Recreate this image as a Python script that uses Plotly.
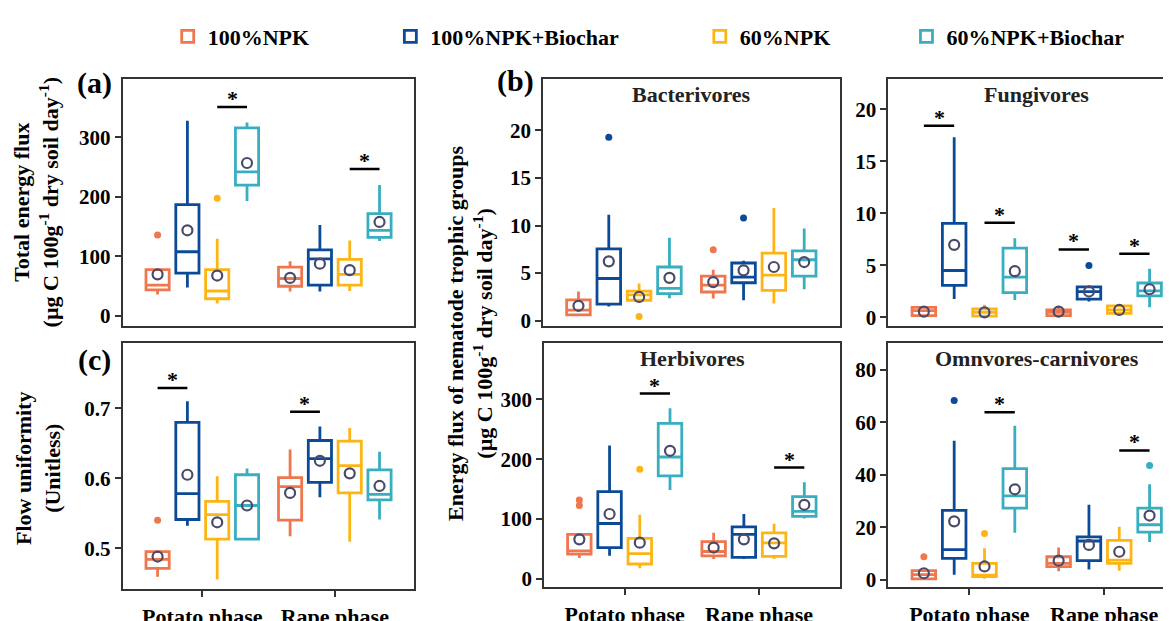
import plotly.graph_objects as go

# ---------------- data ----------------
SERIES = ["100%NPK", "100%NPK+Biochar", "60%NPK", "60%NPK+Biochar"]
COLORS = ["#F0764D", "#0B4A96", "#FDB515", "#38AFC0"]
PHASES = ["Potato phase", "Rape phase"]

# stats per series: [potato(low, q1, median, q3, high, mean), rape(...)]
total_flux = {
    "100%NPK":         [(36, 44, 52, 78, 78, 70), (41, 50, 63, 82, 92, 64)],
    "100%NPK+Biochar": [(48, 72, 108, 187, 328, 144), (41, 52, 96, 111, 153, 88)],
    "60%NPK":          [(21, 29, 42, 78, 130, 68), (42, 52, 70, 95, 127, 77)],
    "60%NPK+Biochar":  [(193, 220, 242, 316, 325, 257), (126, 132, 144, 172, 220, 158)],
}
total_flux_outliers = [("100%NPK", 0, 136), ("60%NPK", 0, 198)]
total_flux_sig = [(0, 2, 3, 351), (1, 2, 3, 247)]

flow_uniformity = {
    "100%NPK":         [(0.459, 0.471, 0.484, 0.495, 0.495, 0.488), (0.517, 0.540, 0.588, 0.601, 0.641, 0.579)],
    "100%NPK+Biochar": [(0.532, 0.541, 0.578, 0.680, 0.710, 0.605), (0.573, 0.594, 0.628, 0.654, 0.674, 0.625)],
    "60%NPK":          [(0.455, 0.513, 0.548, 0.567, 0.603, 0.537), (0.509, 0.579, 0.618, 0.653, 0.672, 0.607)],
    "60%NPK+Biochar":  [(0.513, 0.513, 0.561, 0.605, 0.614, 0.561), (0.541, 0.569, 0.577, 0.612, 0.638, 0.589)],
}
flow_uniformity_outliers = [("100%NPK", 0, 0.540)]
flow_uniformity_sig = [(0, 0, 1, 0.729), (1, 0, 1, 0.695)]

bacterivores = {
    "100%NPK":         [(0.52, 0.6, 1.1, 2.18, 3.05, 1.56), (2.32, 3.01, 3.74, 4.67, 5.36, 4.05)],
    "100%NPK+Biochar": [(1.49, 1.73, 4.43, 7.54, 11.14, 6.23), (2.15, 3.98, 4.57, 6.06, 6.3, 5.29)],
    "60%NPK":          [(2.14, 2.14, 2.7, 3.11, 3.91, 2.49), (1.8, 3.18, 4.78, 7.09, 11.83, 5.64)],
    "60%NPK+Biochar":  [(2.35, 2.84, 3.4, 5.64, 8.72, 4.5), (3.29, 4.67, 6.4, 7.34, 9.69, 6.16)],
}
bacterivores_outliers = [("100%NPK+Biochar", 0, 19.27), ("60%NPK", 0, 0.42),
                         ("100%NPK", 1, 7.44), ("100%NPK+Biochar", 1, 10.8)]
bacterivores_sig = []

fungivores = {
    "100%NPK":         [(0.16, 0.16, 0.63, 0.95, 1.0, 0.54), (0.16, 0.16, 0.47, 0.7, 1.1, 0.54)],
    "100%NPK+Biochar": [(1.74, 3.07, 4.49, 9.02, 17.3, 6.96), (1.52, 1.74, 2.47, 2.91, 3.07, 2.47)],
    "60%NPK":          [(0.1, 0.1, 0.47, 0.79, 1.2, 0.47), (0.25, 0.38, 0.7, 1.1, 1.2, 0.7)],
    "60%NPK+Biochar":  [(1.65, 2.37, 3.86, 6.65, 7.6, 4.43), (0.95, 2.06, 2.53, 3.29, 4.65, 2.69)],
}
fungivores_outliers = [("100%NPK+Biochar", 1, 4.97)]
fungivores_sig = [(0, 0, 1, 18.42), (0, 2, 3, 9.08), (1, 0, 1, 6.52), (1, 2, 3, 6.1)]

herbivores = {
    "100%NPK":         [(34.7, 41.3, 46.8, 74.3, 74.3, 66), (33, 38.5, 45.7, 62.2, 77, 52.3)],
    "100%NPK+Biochar": [(38.5, 52.3, 92.5, 145.9, 222.9, 108.4), (33, 35.8, 74.3, 87, 108.4, 66)],
    "60%NPK":          [(17.6, 24.8, 42, 67.7, 107.3, 60.5), (33, 37.4, 60, 77, 91.9, 59.4)],
    "60%NPK+Biochar":  [(148.6, 172.3, 203.7, 259.8, 285.1, 214.1), (100.7, 104.6, 112.8, 137.6, 161.3, 123.8)],
}
herbivores_outliers = [("100%NPK", 0, 132), ("100%NPK", 0, 122.7), ("60%NPK", 0, 183.3)]
herbivores_sig = [(0, 2, 3, 309.9), (1, 2, 3, 186)]

omnivores = {
    "100%NPK":         [(0.4, 0.4, 2.0, 3.5, 3.5, 2.5), (3.3, 5.0, 6.3, 8.8, 12.3, 7.3)],
    "100%NPK+Biochar": [(1.9, 8.15, 11.5, 26.5, 53, 22.3), (3.9, 7.3, 14.8, 16.4, 28.6, 13.3)],
    "60%NPK":          [(0.4, 1.25, 1.8, 6.3, 12.0, 5.1), (3.5, 6.3, 7.5, 15.0, 20.2, 10.7)],
    "60%NPK+Biochar":  [(17.9, 27.3, 32, 42.4, 58.7, 34.5), (14.4, 18.2, 21.0, 27.3, 36.4, 24.5)],
}
omnivores_outliers = [("100%NPK", 0, 8.8), ("100%NPK+Biochar", 0, 68.3),
                      ("60%NPK", 0, 17.7), ("60%NPK+Biochar", 1, 43.6)]
omnivores_sig = [(0, 2, 3, 63.9), (1, 2, 3, 49.3)]

# ---------------- layout helpers ----------------
W, H = 1171, 621
FONT = "Liberation Serif"
OFFSETS = [-0.3375, -0.1125, 0.1125, 0.3375]
BOX_W = 0.175
MEAN_COLOR = "#4A4A6A"
AXIS_COLOR = "#333333"


def fx(px):
    return px / W


def fy(py):
    return 1 - py / H


panels = [
    dict(data=total_flux, out=total_flux_outliers, sig=total_flux_sig,
         xp=(115, 407), yp=(72, 322), yr=[-16.5, 398], yt=[0, 100, 200, 300],
         xr=[-0.6, 1.6], xlab=False, title=None),
    dict(data=flow_uniformity, out=flow_uniformity_outliers, sig=flow_uniformity_sig,
         xp=(115, 407), yp=(339, 589), yr=[0.441, 0.794], yt=[0.5, 0.6, 0.7],
         xr=[-0.6, 1.6], xlab=True, title=None),
    dict(data=bacterivores, out=bacterivores_outliers, sig=bacterivores_sig,
         xp=(536, 833), yp=(72, 322), yr=[-0.55, 25.4], yt=[0, 5, 10, 15, 20],
         xr=[-0.6, 1.6], xlab=False, title="Bacterivores"),
    dict(data=fungivores, out=fungivores_outliers, sig=fungivores_sig,
         xp=(882, 1171), yp=(72, 322), yr=[-0.83, 22.9], yt=[0, 5, 10, 15, 20],
         xr=[-0.6, 1.541], xlab=False, title="Fungivores"),
    dict(data=herbivores, out=herbivores_outliers, sig=herbivores_sig,
         xp=(537, 833), yp=(339, 587), yr=[-14.4, 395], yt=[0, 100, 200, 300],
         xr=[-0.6, 1.6], xlab=True, title="Herbivores"),
    dict(data=omnivores, out=omnivores_outliers, sig=omnivores_sig,
         xp=(882, 1171), yp=(339, 587), yr=[-2.9, 90.4], yt=[0, 20, 40, 60, 80],
         xr=[-0.6, 1.541], xlab=True, title="Omnvores-carnivores"),
]

fig = go.Figure()
layout = dict(
    width=W, height=H, margin=dict(l=0, r=0, t=0, b=0),
    paper_bgcolor="white", plot_bgcolor="white",
    boxmode="overlay", showlegend=True,
    font=dict(family=FONT, size=21, color="black", weight="bold"),
)
shapes = []
annotations = []

legend_names = ["legend", "legend2", "legend3", "legend4"]
legend_text_x = [210, 433, 743, 950]

for pi, p in enumerate(panels):
    n = pi + 1
    xa = "x" if n == 1 else f"x{n}"
    ya = "y" if n == 1 else f"y{n}"
    xkey = "xaxis" if n == 1 else f"xaxis{n}"
    ykey = "yaxis" if n == 1 else f"yaxis{n}"
    layout[xkey] = dict(
        domain=[fx(p["xp"][0]), fx(p["xp"][1])], range=p["xr"], anchor=ya,
        showline=True, mirror=True, linecolor=AXIS_COLOR, linewidth=2,
        showgrid=False, zeroline=False,
        tickmode="array", tickvals=[0, 1], ticktext=PHASES,
        showticklabels=p["xlab"],
        ticks="outside" if p["xlab"] else "", ticklen=6, tickwidth=2, tickcolor=AXIS_COLOR,
        tickfont=dict(family=FONT, size=22, color="black", weight="bold"),
    )
    layout[ykey] = dict(
        domain=[fy(p["yp"][1]), fy(p["yp"][0])], range=p["yr"], anchor=xa,
        showline=True, mirror=True, linecolor=AXIS_COLOR, linewidth=2,
        showgrid=False, zeroline=False,
        tickmode="array", tickvals=p["yt"],
        ticks="outside", ticklen=6, tickwidth=2, tickcolor=AXIS_COLOR,
        tickfont=dict(family=FONT, size=21, color="black", weight="bold"),
    )
    for si, name in enumerate(SERIES):
        stats = p["data"][name]
        xs = [ph + OFFSETS[si] for ph in range(len(PHASES))]
        fig.add_trace(go.Box(
            x=xs,
            lowerfence=[s[0] for s in stats], q1=[s[1] for s in stats],
            median=[s[2] for s in stats], q3=[s[3] for s in stats],
            upperfence=[s[4] for s in stats],
            width=BOX_W, whiskerwidth=0, boxpoints=False,
            line=dict(color=COLORS[si], width=2.8), fillcolor="white",
            name=name, legendgroup=name, showlegend=(pi == 0),
            legend=legend_names[si], hoverinfo="skip",
            xaxis=xa, yaxis=ya,
        ))
        fig.add_trace(go.Scatter(
            x=xs, y=[s[5] for s in stats], mode="markers",
            marker=dict(symbol="circle-open", size=10, color=MEAN_COLOR,
                        line=dict(width=2.2, color=MEAN_COLOR)),
            showlegend=False, hoverinfo="skip", xaxis=xa, yaxis=ya,
        ))
    for si, name in enumerate(SERIES):
        pts = [(ph, v) for (nm, ph, v) in p["out"] if nm == name]
        if pts:
            fig.add_trace(go.Scatter(
                x=[ph + OFFSETS[si] for ph, v in pts], y=[v for ph, v in pts],
                mode="markers", marker=dict(symbol="circle", size=7, color=COLORS[si]),
                showlegend=False, hoverinfo="skip", xaxis=xa, yaxis=ya,
            ))
    for (ph, a, b, yv) in p["sig"]:
        x0, x1 = ph + OFFSETS[a], ph + OFFSETS[b]
        shapes.append(dict(type="line", xref=xa, yref=ya, x0=x0, x1=x1, y0=yv, y1=yv,
                           line=dict(color="black", width=2.5)))
        annotations.append(dict(xref=xa, yref=ya, x=(x0 + x1) / 2, y=yv, text="*",
                                showarrow=False, yanchor="bottom", yshift=-6,
                                font=dict(family=FONT, size=22, color="black", weight="bold")))
    if p["title"]:
        annotations.append(dict(xref="paper", yref="paper",
                                x=fx(p["xp"][0] + 297 / 2), y=fy(p["yp"][0] + 16),
                                text=p["title"], showarrow=False, xanchor="center", yanchor="middle",
                                font=dict(family=FONT, size=22, color="#222222", weight="bold")))

for txt, px, py in [("(a)", 87, 76), ("(b)", 508, 74), ("(c)", 87, 357)]:
    annotations.append(dict(xref="paper", yref="paper", x=fx(px), y=fy(py), text=txt,
                            showarrow=False, xanchor="center", yanchor="middle",
                            font=dict(family=FONT, size=30, color="black", weight="bold")))

unit = "(µg C 100g<sup>-1</sup> dry soil day<sup>-1</sup>)"
for txt, px, py in [("Total energy flux<br>" + unit, 29, 197),
                    ("Flow uniformity<br>(Unitless)", 30, 466),
                    ("Energy flux of nematode trophic groups<br>" + unit, 463, 330)]:
    annotations.append(dict(xref="paper", yref="paper", x=fx(px), y=fy(py), text=txt,
                            showarrow=False, xanchor="center", yanchor="middle", textangle=-90,
                            font=dict(family=FONT, size=22, color="black", weight="bold")))

for i, ln in enumerate(legend_names):
    layout[ln] = dict(
        orientation="h", x=fx(legend_text_x[i] - 50), y=fy(29), xanchor="left", yanchor="middle",
        font=dict(family=FONT, size=22, color="black", weight="bold"),
        bgcolor="rgba(0,0,0,0)", itemwidth=30,
    )

layout["shapes"] = shapes
layout["annotations"] = annotations
fig.update_layout(**layout)
fig.write_html("out.html")
